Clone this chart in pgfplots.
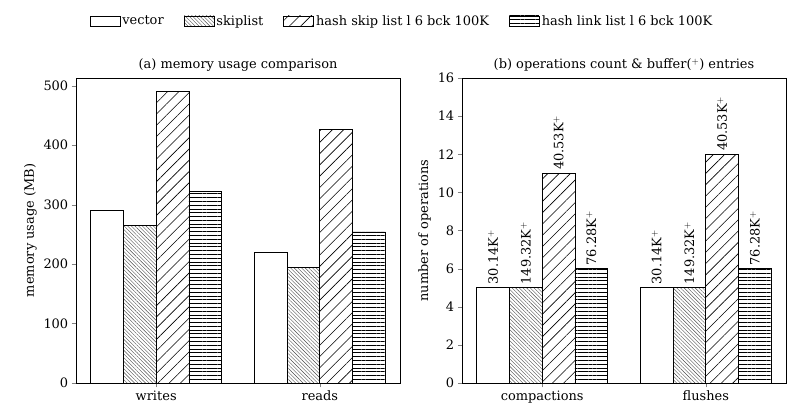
\documentclass[border=0pt]{standalone}
\usepackage{pgfplots}
\pgfplotsset{compat=1.18}
\usepackage{fontspec}
\setmainfont{DejaVu Serif}
\usetikzlibrary{patterns.meta}
\tikzset{
 pskip/.style={pattern={Lines[angle=-45,distance=2.6pt,line width=0.4pt]},pattern color=black!70},
 phs/.style={pattern={Lines[angle=45,distance=8pt,line width=0.6pt]}},
 phl/.style={pattern={Lines[angle=0,distance=3.8pt,line width=0.5pt]}},
}
\newcommand{\fs}{\fontsize{13}{15}\selectfont}
\pgfplotsset{
 myax/.style={scale only axis,width=324bp,height=305bp,ybar=0pt,bar width=0.2,
  xmin=-0.49,xmax=1.49,xtick={0,1},ymin=0,
  /pgf/number format/assume math mode=true,
  tick label style={font=\fs},
  label style={font=\fs},
  title style={font=\fs,yshift=-3pt},
  tick align=outside,xtick pos=bottom,ytick pos=left,
  every axis plot/.append style={draw=black,line width=0.7pt}},
}
\begin{document}
\begin{tikzpicture}[x=1bp,y=1bp]
\useasboundingbox (0,0) rectangle (803,417);
\begin{axis}[myax,at={(76bp,34bp)},anchor=south west,ymax=513,
 ytick={0,100,200,300,400,500},xticklabels={writes,reads},
 ylabel={memory usage (MB)},title={(a) memory usage comparison},
 legend columns=4,legend style={at={(1.006,1.187)},anchor=center,draw=none,
  font=\fs,/tikz/every even column/.append style={column sep=18bp}},
 legend image code/.code={\draw[#1] (0bp,-5bp) rectangle (30bp,5bp);}]
\addplot[fill=white] coordinates {(0,290) (1,220)};
\addplot[pskip] coordinates {(0,265) (1,194)};
\addplot[phs] coordinates {(0,490) (1,426)};
\addplot[phl] coordinates {(0,322) (1,254)};
\legend{vector,skiplist,hash skip list l 6 bck 100K,hash link list l 6 bck 100K}
\end{axis}
\begin{axis}[myax,at={(462bp,34bp)},anchor=south west,ymax=16,
 ytick={0,2,...,16},xticklabels={compactions,flushes},
 ylabel={number of operations},title={(b) operations count \& buffer($^+$) entries},
 nodes near coords,point meta=explicit symbolic,
 every node near coord/.append style={rotate=90,anchor=west,font=\fs,xshift=1bp,yshift=0bp,inner sep=2bp}]
\addplot[fill=white] coordinates {(0,5)[30.14K$^+$] (1,5)[30.14K$^+$]};
\addplot[pskip] coordinates {(0,5)[149.32K$^+$] (1,5)[149.32K$^+$]};
\addplot[phs] coordinates {(0,11)[40.53K$^+$] (1,12)[40.53K$^+$]};
\addplot[phl] coordinates {(0,6)[76.28K$^+$] (1,6)[76.28K$^+$]};
\end{axis}
\end{tikzpicture}
\end{document}
